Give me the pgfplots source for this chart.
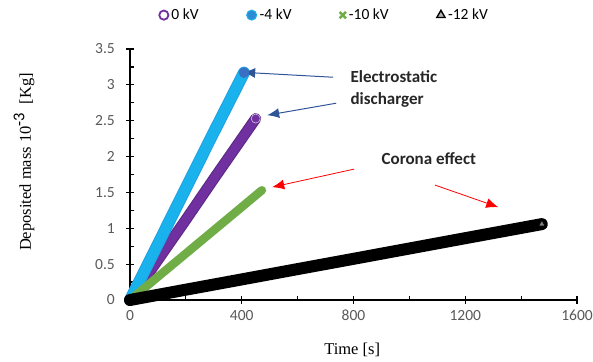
\documentclass[border=0pt]{standalone}
\usepackage{fontspec}
\setmainfont{Carlito}
\newfontfamily\seriffont{Liberation Serif}
\usepackage{pgfplots}
\pgfplotsset{compat=1.18}
\usetikzlibrary{arrows.meta}
\definecolor{cpurple}{HTML}{7030A0}
\definecolor{cblue}{HTML}{19B2EC}
\definecolor{cblueD}{HTML}{3A6FC4}
\definecolor{cgreen}{HTML}{70AD47}
\definecolor{tgray}{HTML}{595959}
\definecolor{arrblue}{HTML}{2F5597}
\begin{document}
\begin{tikzpicture}
\begin{axis}[
  scale only axis, width=447pt, height=251pt,
  xmin=0, xmax=1600, ymin=0, ymax=3.5,
  clip=false,
  axis x line*=bottom, axis y line*=left,
  axis line style={-, line width=1.2pt, black},
  xtick={0,400,800,1200,1600},
  ytick={0,0.5,1,1.5,2,2.5,3,3.5},
  minor x tick num=1, minor y tick num=1,
  tick align=center,
  major tick length=8pt, minor tick length=4pt,
  every tick/.style={black, line width=1.2pt},
  minor x tick style={yshift=2pt},
  minor y tick style={xshift=2pt},
  /pgf/number format/assume math mode=true,
  /pgf/number format/1000 sep={},
  ticklabel style={font=\fontsize{15.5}{18}\selectfont, text=tgray},
  yticklabel style={anchor=east, inner sep=0pt, xshift=-11pt},
  xticklabel style={anchor=north, inner sep=0pt, yshift=-6pt},
  xlabel={Time [s]},
  ylabel={Deposited mass 10$^{\textrm{-3}}$~~[Kg]},
  xlabel style={font=\seriffont\fontsize{16.5}{19}\selectfont, at={(axis description cs:0.497,-0.199)}, anchor=center},
  ylabel style={font=\seriffont\fontsize{16.5}{19}\selectfont, at={(axis description cs:-0.237,0.55)}, anchor=center},
  legend style={draw=none, fill=none, at={(rel axis cs:0.065,1.135)}, anchor=west,
    font=\fontsize{15.5}{18}\selectfont, inner sep=0pt,
    /tikz/every even column/.append style={column sep=46pt},
    /tikz/every odd column/.append style={column sep=1pt}},
  legend columns=-1,
  legend image code/.code={\draw[#1] plot coordinates {(0.14cm,0cm)};},
]
\coordinate (O) at (rel axis cs:0,0);
\coordinate (T) at (rel axis cs:1,1);
% legend entries
\addlegendimage{only marks, mark=o, mark size=4.6pt, cpurple, line width=1.8pt}
\addlegendentry{0 kV}
\addlegendimage{only marks, mark=*, mark size=5pt, draw=cblue, fill=cblueD!60!cblue, line width=1pt}
\addlegendentry{-4 kV}
\addlegendimage{only marks, mark=x, mark size=4.5pt, cgreen, line width=2.4pt}
\addlegendentry{-10 kV}
\addlegendimage{only marks, mark=triangle*, mark size=4.8pt, draw=black, fill=gray!60, line width=1.4pt}
\addlegendentry{-12 kV}
% 0 kV
\addplot[forget plot, cpurple!80!black, line width=11pt, line cap=round, no marks] coordinates {
(0,0) (100,0.56) (200,1.12) (300,1.69) (400,2.25) (450,2.53)};
\addplot[forget plot, cpurple, line width=9pt, line cap=round, no marks] coordinates {
(0,0) (100,0.56) (200,1.12) (300,1.69) (400,2.25) (450,2.53)};
% -4 kV
\addplot[forget plot, cblue!75!cblueD, line width=12pt, line cap=round, no marks] coordinates {
(0,0) (100,0.78) (200,1.56) (300,2.34) (408,3.17)};
\addplot[forget plot, cblue, line width=10pt, line cap=round, no marks] coordinates {
(0,0) (100,0.78) (200,1.56) (300,2.34) (408,3.17)};
% -10 kV
\addplot[forget plot, cgreen, line width=8.5pt, line cap=round, no marks] coordinates {
(0,0) (100,0.324) (200,0.648) (300,0.972) (400,1.296) (472,1.53)};
% -12 kV
\addplot[forget plot, black, line width=12pt, line cap=round, no marks] coordinates {
(0,0) (200,0.144) (400,0.287) (600,0.431) (800,0.574) (1000,0.718) (1200,0.862) (1400,1.005) (1474,1.058)};
% end markers
\addplot[forget plot, only marks, mark=*, mark size=5pt, draw=cblueD, fill=cblueD] coordinates {(408,3.17)};
\addplot[forget plot, only marks, mark=o, mark size=4.5pt, draw=white!70!cpurple, line width=0.6pt] coordinates {(450,2.53)};
\addplot[forget plot, only marks, mark=triangle*, mark size=3.5pt, draw=black, fill=gray] coordinates {(1474,1.058)};
% annotations
\node[anchor=west, align=left, font=\bfseries\fontsize{17}{22}\selectfont, text=black!85] at (axis cs:777,2.94) {Electrostatic\\discharger};
\node[anchor=west, font=\bfseries\fontsize{17}{22}\selectfont, text=black!85] at (axis cs:888,1.978) {Corona effect};
\draw[arrblue, line width=1pt, -{Latex[length=12pt,width=10pt]}] (axis cs:727,3.106) -- (axis cs:405,3.175);
\draw[arrblue, line width=1pt, -{Latex[length=12pt,width=10pt]}] (axis cs:738,2.744) -- (axis cs:491,2.577);
\draw[red, line width=0.8pt, -{Latex[length=12pt,width=10pt]}] (axis cs:802,1.825) -- (axis cs:509,1.574);
\draw[red, line width=0.8pt, -{Latex[length=12pt,width=10pt]}] (axis cs:1092,1.602) -- (axis cs:1318,1.295);
\end{axis}
\path ([shift={(-130pt,-62pt)}]O) rectangle ([shift={(16pt,49pt)}]T);
\end{tikzpicture}
\end{document}
